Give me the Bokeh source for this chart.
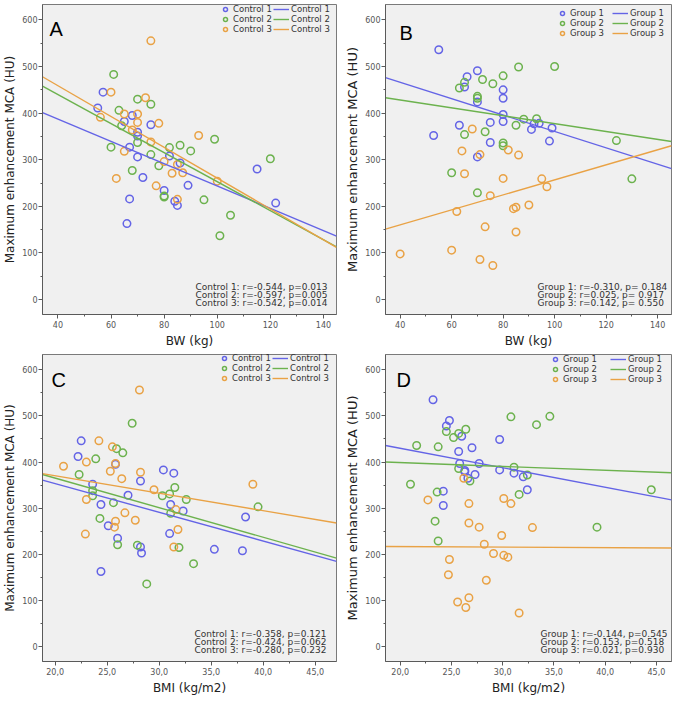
from bokeh.plotting import figure
from bokeh.layouts import gridplot
from bokeh.models import Legend, LegendItem, Label, Range1d, FixedTicker
from bokeh.embed import file_html
from bokeh.resources import INLINE

# ---------------- data ----------------
y_ticks = [0, 100, 200, 300, 400, 500, 600]
y_minor = [50, 150, 250, 350, 450, 550]
bw_ticks = [40, 60, 80, 100, 120, 140]
bw_minor = [50, 70, 90, 110, 130]
bmi_ticks = [20, 25, 30, 35, 40, 45]
bmi_minor = [22.5, 27.5, 32.5, 37.5, 42.5]
bmi_labels = ["20,0", "25,0", "30,0", "35,0", "40,0", "45,0"]

control_names = ["Control 1", "Control 2", "Control 3"]
group_names = ["Group 1", "Group 2", "Group 3"]
y_title = "Maximum enhancement MCA (HU)"

# Panel A: Controls, BW
A_c1_x = [55, 57, 65, 68, 67, 70, 70, 70, 75, 72, 67, 66, 82, 86, 80, 84, 85, 89, 115, 122]
A_c1_y = [411, 445, 382, 395, 327, 359, 351, 306, 375, 262, 216, 163, 308, 293, 234, 211, 202, 245, 280, 207]
A_c2_x = [61, 63, 64, 60, 70, 75, 70, 68, 75, 78, 82, 86, 90, 99, 80, 80, 95, 101, 105, 120]
A_c2_y = [483, 406, 373, 327, 430, 419, 337, 277, 311, 287, 326, 331, 319, 344, 220, 222, 214, 137, 181, 302]
A_c3_x = [75, 60, 73, 56, 65, 70, 70, 78, 68, 75, 65, 93, 80, 85, 83, 87, 62, 77, 100, 85]
A_c3_y = [555, 445, 433, 391, 398, 398, 380, 378, 364, 338, 318, 352, 296, 290, 271, 272, 260, 244, 254, 215]
A_fit_x = [34.2, 144.9]
A_fit_c1 = [401, 136]
A_fit_c2 = [458, 113]
A_fit_c3 = [478, 112]
A_stats = ["Control 1: r=-0.544, p=0.013", "Control 2: r=-0.597, p=0.005", "Control 3: r=-0.542, p=0.014"]

# Panel B: Groups, BW
B_g1_x = [55, 70, 66, 65, 70, 80, 80, 80, 80, 75, 63, 53, 75, 70, 91, 92, 94, 99, 98]
B_g1_y = [536, 491, 478, 456, 424, 450, 432, 397, 382, 380, 374, 352, 337, 306, 365, 377, 378, 368, 340]
B_g2_x = [86, 100, 80, 72, 76, 65, 63, 70, 70, 85, 88, 93, 73, 65, 80, 80, 60, 70, 124, 130]
B_g2_y = [499, 500, 480, 472, 463, 466, 454, 436, 432, 374, 387, 388, 360, 354, 336, 330, 272, 229, 341, 259]
B_g3_x = [68, 64, 71, 82, 86, 65, 80, 95, 97, 75, 62, 84, 85, 90, 73, 85, 60, 40, 71, 76]
B_g3_y = [366, 319, 311, 321, 310, 270, 260, 259, 242, 223, 189, 195, 198, 203, 156, 145, 106, 98, 86, 73]
B_fit_x = [34.3, 145.4]
B_fit_g1 = [476, 281]
B_fit_g2 = [433, 339]
B_fit_g3 = [151, 330]
B_stats = ["Group 1: r=-0.310, p= 0.184", "Group 2: r=0.025, p= 0.917", "Group 3: r=0.142, p= 0.550"]

# Panel C: Controls, BMI
C_c1_x = [22.5, 22.2, 25.8, 30.4, 31.4, 23.6, 28.2, 27.0, 24.4, 31.1, 32.3, 25.1, 31.0, 26.0, 28.2, 28.3, 24.4, 38.3, 35.3, 38.0]
C_c1_y = [446, 412, 395, 383, 376, 352, 359, 328, 308, 308, 294, 262, 245, 235, 216, 203, 163, 281, 211, 208]
C_c2_x = [27.4, 25.9, 26.5, 23.9, 22.3, 31.5, 23.6, 23.6, 30.3, 31.0, 32.6, 25.6, 31.1, 24.3, 26.0, 27.9, 31.9, 33.3, 28.8, 39.5]
C_c2_y = [484, 429, 420, 407, 373, 345, 338, 327, 327, 331, 319, 312, 289, 278, 221, 220, 215, 180, 136, 303]
C_c3_x = [28.1, 24.2, 25.5, 23.0, 25.8, 20.8, 25.3, 28.2, 26.4, 29.5, 23.0, 31.6, 26.7, 27.7, 25.8, 25.7, 31.8, 22.9, 31.4, 39.0]
C_c3_y = [556, 446, 433, 400, 397, 391, 380, 378, 364, 340, 319, 297, 290, 274, 272, 259, 254, 244, 216, 352]
C_fit_x = [18.78, 47.04]
C_fit_c1 = [361, 185]
C_fit_c2 = [373, 192]
C_fit_c3 = [375, 268]
C_stats = ["Control 1: r=-0.358, p=0.121", "Control 2: r=-0.424, p=0.062", "Control 3: r=-0.280, p=0.232"]

# Panel D: Groups, BMI
D_g1_x = [23.2, 24.8, 24.5, 26.0, 29.7, 25.7, 27.0, 25.8, 27.7, 26.3, 26.6, 27.3, 29.7, 31.1, 32.0, 24.2, 24.2, 32.4, 26.3]
D_g1_y = [535, 490, 478, 456, 449, 423, 431, 397, 397, 379, 365, 373, 383, 376, 368, 337, 306, 340, 382]
D_g2_x = [30.8, 24.5, 25.7, 26.4, 25.2, 21.6, 23.7, 25.7, 26.8, 31.1, 32.4, 21.0, 23.6, 31.6, 23.4, 23.7, 33.3, 34.6, 44.5, 39.2]
D_g2_y = [498, 466, 462, 471, 453, 436, 433, 386, 359, 389, 372, 352, 335, 330, 272, 229, 481, 499, 340, 259]
D_g3_x = [26.2, 22.7, 30.1, 30.8, 26.7, 26.7, 27.7, 32.9, 29.9, 28.2, 29.1, 30.1, 30.5, 24.8, 24.7, 28.4, 26.7, 25.6, 26.4, 31.6]
D_g3_y = [365, 318, 321, 310, 310, 268, 259, 258, 241, 222, 202, 198, 194, 189, 156, 144, 106, 97, 85, 73]
D_fit_x = [18.56, 46.47]
D_fit_g1 = [436, 318]
D_fit_g2 = [400, 377]
D_fit_g3 = [217, 214]
D_stats = ["Group 1: r=-0.144, p=0.545", "Group 2: r=0.153, p=0.518", "Group 3: r=0.021, p=0.930"]

# ---------------- style ----------------
COLORS = ["#6464E6", "#6CB24E", "#E9A245"]
FONT = "DejaVu Sans"


def make_panel(letter, size, borders, xr, xticks, xminor, xlabel, overrides, names, series,
               fit_x, fits, stats, leg1_x, leg2_x, leg_y, stats_dx, letter_dx, letter_dy,
               ytitle_size):
    bl, br, bt, bb = borders
    p = figure(width=size[0], height=size[1], x_range=Range1d(*xr), y_range=Range1d(-32, 633),
               output_backend="svg", toolbar_location=None,
               min_border_left=bl, min_border_right=br, min_border_top=bt, min_border_bottom=bb)
    p.background_fill_color = "#F0F0F0"
    p.border_fill_color = "white"
    p.outline_line_color = "#7A7A7A"
    p.outline_line_width = 1
    p.grid.visible = False

    p.yaxis.ticker = FixedTicker(ticks=y_ticks, minor_ticks=y_minor)
    p.xaxis.ticker = FixedTicker(ticks=xticks, minor_ticks=xminor)
    if overrides:
        p.xaxis.major_label_overrides = overrides
    for ax in (p.xaxis[0], p.yaxis[0]):
        ax.axis_line_color = "#5A5A5A"
        ax.major_tick_line_color = "#5A5A5A"
        ax.minor_tick_line_color = "#5A5A5A"
        ax.major_tick_in = 0
        ax.major_tick_out = 4
        ax.minor_tick_in = 0
        ax.minor_tick_out = 2
        ax.major_label_text_font = FONT
        ax.major_label_text_font_size = "8px"
        ax.major_label_text_color = "#555555"
        ax.major_label_standoff = 2
        ax.axis_label_text_font = FONT
        ax.axis_label_text_font_style = "normal"
        ax.axis_label_text_color = "#222222"
    p.yaxis.major_label_standoff = 1
    p.xaxis.axis_label = xlabel
    p.xaxis.axis_label_text_font_size = "12px"
    p.xaxis.axis_label_standoff = 3
    p.yaxis.axis_label = y_title
    p.yaxis.axis_label_text_font_size = ytitle_size
    p.yaxis.axis_label_standoff = 2

    pts, lns = [], []
    for (xs, ys), col in zip(series, COLORS):
        pts.append(p.scatter(xs, ys, marker="circle", size=7.5, fill_color=None,
                             line_color=col, line_width=1.5))
    for fy, col in zip(fits, COLORS):
        lns.append(p.line(fit_x, fy, line_color=col, line_width=1.4))

    common = dict(border_line_color=None, background_fill_alpha=0,
                  label_text_font=FONT, label_text_font_size="8.5px",
                  label_text_color="#333333", glyph_height=10, label_height=10,
                  spacing=0, padding=0, margin=0)
    leg1 = Legend(items=[LegendItem(label=n, renderers=[r]) for n, r in zip(names, pts)],
                  location=(leg1_x, leg_y), glyph_width=10, label_standoff=3, **common)
    leg2 = Legend(items=[LegendItem(label=n, renderers=[r]) for n, r in zip(names, lns)],
                  location=(leg2_x, leg_y), glyph_width=16, label_standoff=2, **common)
    p.add_layout(leg1)
    p.add_layout(leg2)

    for i, s in enumerate(stats):
        p.add_layout(Label(x=xr[1], y=-32, x_offset=stats_dx, y_offset=12 + 8 * (2 - i),
                           text=s, text_font=FONT, text_font_size="9px",
                           text_color="#333333", text_align="left", text_baseline="middle"))
    p.add_layout(Label(x=xr[0], y=633, x_offset=letter_dx, y_offset=letter_dy, text=letter,
                       text_font="Liberation Sans", text_font_size="20px",
                       text_color="black", text_align="left", text_baseline="top"))
    return p


bw_ov = None
bmi_ov = {t: l for t, l in zip(bmi_ticks, bmi_labels)}

pA = make_panel("A", (342, 350), (36, 6, 4, 34), (34.2, 144.9), bw_ticks, bw_minor, "BW (kg)",
                bw_ov, control_names, [(A_c1_x, A_c1_y), (A_c2_x, A_c2_y), (A_c3_x, A_c3_y)],
                A_fit_x, [A_fit_c1, A_fit_c2, A_fit_c3], A_stats,
                178, 231, 280, -141, 7, -13, "12px")
pB = make_panel("B", (331, 350), (42, 2, 4, 34), (34.3, 145.4), bw_ticks, bw_minor, "BW (kg)",
                bw_ov, group_names, [(B_g1_x, B_g1_y), (B_g2_x, B_g2_y), (B_g3_x, B_g3_y)],
                B_fit_x, [B_fit_g1, B_fit_g2, B_fit_g3], B_stats,
                172, 227, 276, -134, 14, -17, "13px")
pC = make_panel("C", (342, 347), (36, 6, 4, 32), (18.78, 47.04), bmi_ticks, bmi_minor, "BMI (kg/m2)",
                bmi_ov, control_names, [(C_c1_x, C_c1_y), (C_c2_x, C_c2_y), (C_c3_x, C_c3_y)],
                C_fit_x, [C_fit_c1, C_fit_c2, C_fit_c3], C_stats,
                177, 230, 278, -142, 9, -14, "12px")
pD = make_panel("D", (331, 347), (42, 2, 4, 32), (18.56, 46.47), bmi_ticks, bmi_minor, "BMI (kg/m2)",
                bmi_ov, group_names, [(D_g1_x, D_g1_y), (D_g2_x, D_g2_y), (D_g3_x, D_g3_y)],
                D_fit_x, [D_fit_g1, D_fit_g2, D_fit_g3], D_stats,
                165, 225, 277, -131, 11, -14, "13px")

grid = gridplot([[pA, pB], [pC, pD]], toolbar_location=None)
open("out.html", "w").write(file_html(grid, INLINE))
